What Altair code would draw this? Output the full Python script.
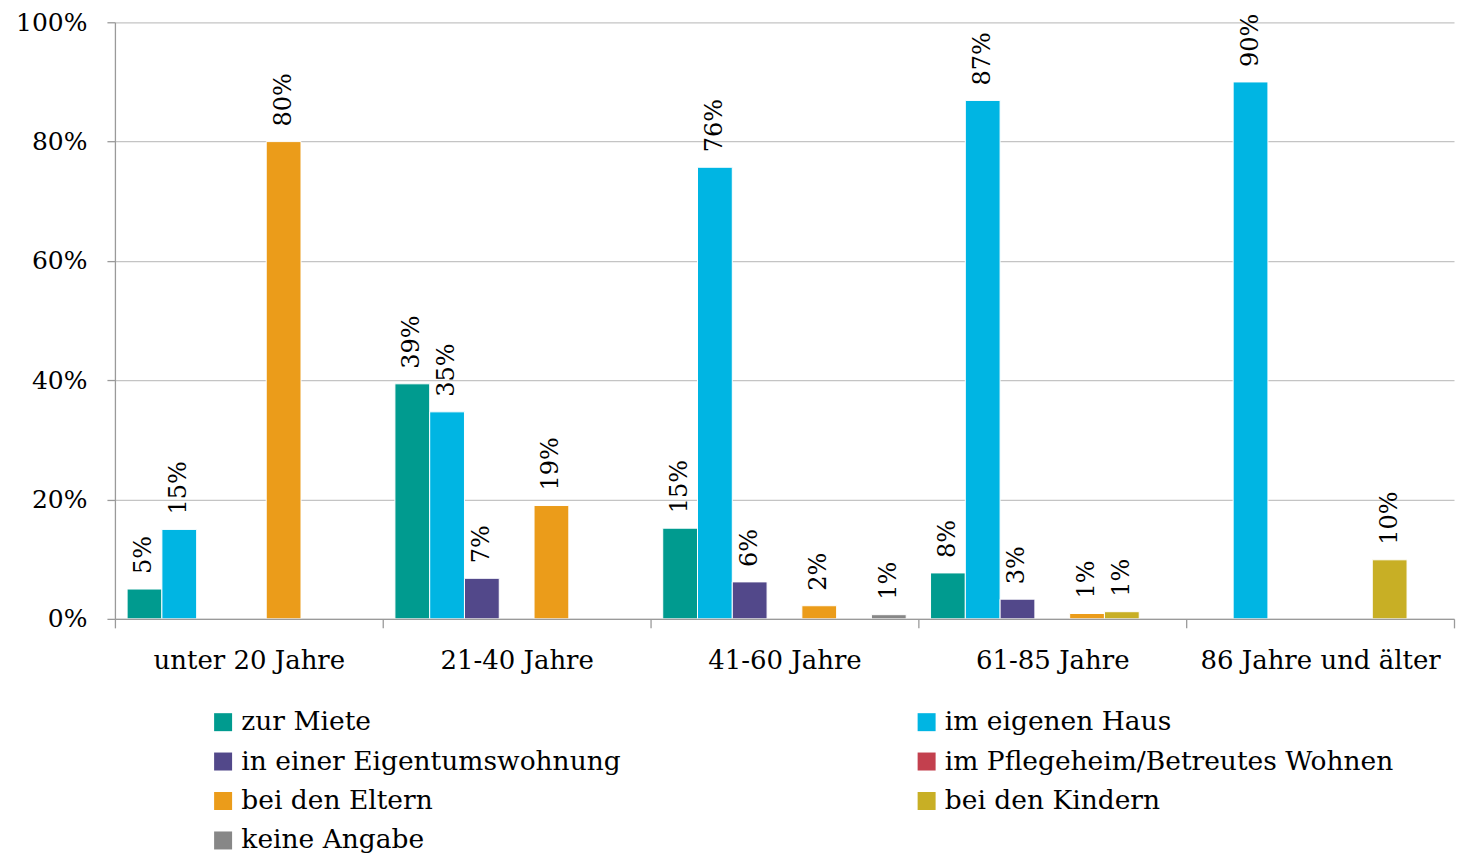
import altair as alt
import pandas as pd

groups = ["unter 20 Jahre", "21-40 Jahre", "41-60 Jahre", "61-85 Jahre", "86 Jahre und älter"]
series = [
    "zur Miete",
    "im eigenen Haus",
    "in einer Eigentumswohnung",
    "im Pflegeheim/Betreutes Wohnen",
    "bei den Eltern",
    "bei den Kindern",
    "keine Angabe",
]
colors = ["#009B8F", "#00B5E3", "#52488A", "#C3404E", "#EB9C1A", "#C8AF25", "#878787"]

# values in percent, per series, across the age groups
zur_miete = [5.0, 39.4, 15.2, 7.7, 0.0]
eigenes_haus = [15.0, 34.7, 75.7, 86.9, 90.0]
eigentumswohnung = [0.0, 6.8, 6.2, 3.3, 0.0]
pflegeheim = [0.0, 0.0, 0.0, 0.0, 0.0]
eltern = [80.0, 19.0, 2.2, 0.9, 0.0]
kindern = [0.0, 0.0, 0.0, 1.2, 9.9]
keine_angabe = [0.0, 0.0, 0.7, 0.0, 0.0]

values = [zur_miete, eigenes_haus, eigentumswohnung, pflegeheim, eltern, kindern, keine_angabe]

rows = []
for s, vals in zip(series, values):
    for g, v in zip(groups, vals):
        rows.append({"group": g, "series": s, "share": v / 100.0})
df = pd.DataFrame(rows)

# legend is laid out column by column: order entries so rows read like the original
legend_order = [series[i] for i in (0, 2, 4, 6, 1, 3, 5)]
legend_colors = [colors[i] for i in (0, 2, 4, 6, 1, 3, 5)]

FONT = "DejaVu Serif"
GRAY = "#9a9a9a"

x_enc = alt.X(
    "group:N",
    sort=groups,
    scale=alt.Scale(paddingInner=0, paddingOuter=0),
    axis=alt.Axis(
        title=None,
        labelAngle=0,
        tickBand="extent",
        ticks=True,
        tickSize=9,
        tickColor=GRAY,
        tickWidth=1.3,
        domainColor=GRAY,
        domainWidth=1.3,
        labelFont=FONT,
        labelFontSize=26,
        labelColor="#000000",
        labelPadding=20,
        labelLimit=400,
        grid=False,
        zindex=1,
    ),
)
xo_enc = alt.XOffset(
    "series:N",
    sort=series,
    scale=alt.Scale(domain=series, paddingInner=0, paddingOuter=0.35),
)
y_enc = alt.Y(
    "share:Q",
    scale=alt.Scale(domain=[0, 1], nice=False),
    axis=alt.Axis(
        title=None,
        format=".0%",
        values=[0, 0.2, 0.4, 0.6, 0.8, 1.0],
        tickSize=8,
        tickColor=GRAY,
        tickWidth=1.3,
        domainColor=GRAY,
        domainWidth=1.3,
        gridColor="#c4c4c4",
        gridWidth=1.3,
        labelFont=FONT,
        labelFontSize=25,
        labelColor="#000000",
        labelPadding=20,
        minExtent=102,
        maxExtent=102,
    ),
)

base = alt.Chart(df).transform_filter("datum.share > 0")

bars = base.mark_bar(stroke="white", strokeWidth=1).encode(
    x=x_enc,
    xOffset=xo_enc,
    y=y_enc,
    color=alt.Color(
        "series:N",
        scale=alt.Scale(domain=legend_order, range=legend_colors),
        legend=alt.Legend(
            title=None,
            orient="none",
            legendX=95,
            legendY=687,
            columns=2,
            columnPadding=292,
            rowPadding=12.5,
            symbolType="square",
            symbolSize=324,
            symbolStrokeWidth=0,
            symbolOffset=0,
            labelFont=FONT,
            labelFontSize=26.5,
            labelColor="#000000",
            labelOffset=5,
            labelLimit=600,
        ),
    ),
)

labels = base.mark_text(
    angle=270,
    align="left",
    baseline="middle",
    dx=15,
    font=FONT,
    fontSize=24,
    color="#000000",
).encode(
    x=x_enc,
    xOffset=xo_enc,
    y=y_enc,
    text=alt.Text("share:Q", format=".0%"),
)

chart = (
    alt.layer(bars, labels)
    .properties(width=1340, height=597, padding={"left": 5, "top": 2, "right": 3, "bottom": 0})
    .configure_view(stroke=None)
)

chart.save("out.html", embed_options={"renderer": "svg", "actions": False})
